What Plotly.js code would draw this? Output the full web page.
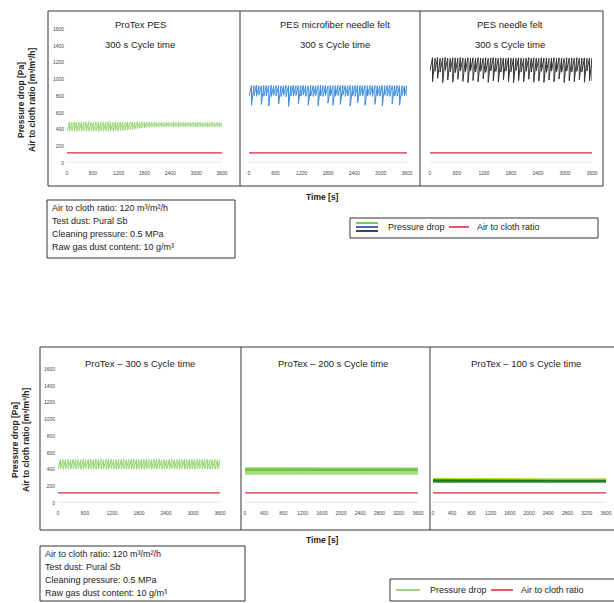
<!DOCTYPE html>
<html>
<head>
<meta charset="utf-8">
<script src="https://cdn.plot.ly/plotly-3.0.1.min.js"></script>
<style>html,body{margin:0;padding:0;background:#fff;}#chart{width:614px;height:603px;}</style>
</head>
<body>
<div id="chart"></div>
<script>
// ---------- DATA ----------
const timeRange = [0, 3600];
const ratioValue = 120;           // air to cloth ratio [m3/m2/h]
const baseValue = 10;             // faint base line

const yTicks = [0,200,400,600,800,1000,1200,1400,1600];
const xTicks600 = [0,600,1200,1800,2400,3000,3600];
const xTicks400 = [0,400,800,1200,1600,2000,2400,2800,3200,3600];

const topTitles = ["ProTex PES", "PES microfiber needle felt", "PES needle felt"];
const topSubtitle = "300 s Cycle time";
const bottomTitles = ["ProTex \u2013 300 s Cycle time", "ProTex \u2013 200 s Cycle time", "ProTex \u2013 100 s Cycle time"];

// Top left: ProTex PES (peak / trough per cleaning cycle, Pa)
const t1Peaks = [492,488,494,490,487,493,489,491,495,488,490,492,487,491,493,489,490,494,488,491,489,492,490,487,493,491,488,490,494,489,491,487,488,486,489,487,485,488,486,487,485,488,486,484,487,485,488,486,484,487,485,486,484,487,485,483,486,484,487,485,483,486,484,485];
const t1Troughs = [382,378,385,380,376,384,379,383,377,381,386,379,382,375,384,380,383,378,385,381,388,384,390,386,392,395,398,402,405,410,412,418,422,425,428,430,427,432,429,433,430,431,434,432,430,433,431,435,432,430,434,431,433,430,432,435,431,433,430,432,434,431,433,432];
// Top middle: PES microfiber needle felt
const t2Peaks = [926,922,928,924,921,927,923,925,929,922,924,926,921,925,927,923,924,928,922,925,923,926,924,921,927,925,922,924,928,923,925,921,926,924,922,927,923,925,924,922,926,923,925,927,922,924,926,923,925,921,927,924,922,926,923,925,928,922,924,926,923,925,921,924];
const t2Troughs = [800,690,805,795,810,700,798,802,680,795,808,800,705,795,810,790,675,800,798,805,710,800,812,795,690,800,796,805,685,800,795,808,715,802,690,798,805,700,810,795,800,680,802,795,720,805,798,690,800,808,795,700,803,797,685,810,800,795,705,802,798,690,805,800];
// Top right: PES needle felt
const t3Peaks = [1258,1252,1260,1250,1255,1262,1253,1248,1257,1255,1251,1261,1254,1249,1258,1253,1256,1250,1259,1254,1252,1257,1248,1255,1260,1253,1251,1256,1254,1249,1258,1252,1255,1250,1257,1254,1248,1253,1259,1251,1256,1254,1250,1257,1252,1255,1249,1254,1258,1251,1256,1253,1249,1257,1252,1255,1250,1258,1253,1251,1256,1249,1254,1252];
const t3Troughs = [1100,970,1095,1010,1085,960,1105,990,1090,965,1080,1000,1098,975,1092,960,1102,985,1088,970,1095,1005,1082,962,1100,980,1093,968,1086,995,1098,972,1090,960,1104,985,1085,970,1096,1000,1089,965,1101,978,1094,962,1083,990,1097,968,1091,1002,1085,963,1099,982,1088,970,1094,995,1087,964,1100,980];
// Bottom left: ProTex 300 s
const b1Peaks = [522,518,524,520,517,523,519,521,516,522,518,520,523,517,521,519,522,516,520,518,523,519,517,521,520,522,516,519,521,518,523,517,520,519,522,518,516,521,519,523,517,520,518,522,519,516,521,520,518,522,519,517,521,520,523,518,516,520,522,519,517,521,518,520];
const b1Troughs = [405,410,402,408,412,404,409,406,411,403,408,413,405,407,410,402,409,406,412,404,408,411,403,407,410,405,409,402,411,406,408,404,410,407,403,409,412,405,408,406,411,403,409,407,404,410,406,408,405,411,403,409,406,410,404,408,412,405,409,403,407,410,405,408];
// Bottom middle / right: very dense cycles, envelope sampled every 360 s
const bandTimes = [0,360,720,1080,1440,1800,2160,2520,2880,3240,3600];
const b2Upper = [424,423,425,422,424,423,421,423,422,424,421];
const b2Lower = [340,342,339,341,338,340,342,339,341,338,340];
const b2Mid   = [398,399,397,398,397,398,396,397,398,397,396];
const b3Upper = [292,290,291,289,290,288,289,287,288,287,286];
const b3Lower = [246,247,245,246,244,245,246,244,245,243,244];
const b3Mid   = [268,267,268,266,267,266,267,265,266,265,265];

// ---------- HELPERS ----------
const W = 614, H = 603;
const px = x => x / W;
const py = y => 1 - y / H;
const FONT = "Liberation Sans, Arial, sans-serif";

function sawtooth(peaks, troughs) {
  const n = peaks.length, step = (timeRange[1]-timeRange[0]) / n;
  const xs = [], ys = [];
  for (let i = 0; i < n; i++) {
    xs.push(timeRange[0] + i*step); ys.push(troughs[i]);
    xs.push(timeRange[0] + (i+1)*step - 0.001); ys.push(peaks[i]);
  }
  xs.push(timeRange[1]); ys.push(troughs[n-1]);
  return {x: xs, y: ys};
}

const traces = [];
function addPanel(k, pd, color, width) {
  const xa = 'x' + (k===1?'':k), ya = 'y' + (k===1?'':k);
  traces.push({x:timeRange, y:[baseValue,baseValue], xaxis:xa, yaxis:ya, mode:'lines', line:{color:'#e4e4e4', width:1}, showlegend:false, hoverinfo:'skip'});
  if (pd) traces.push({x:pd.x, y:pd.y, xaxis:xa, yaxis:ya, mode:'lines', line:{color:color, width:width}, showlegend:false});
  traces.push({x:timeRange, y:[ratioValue,ratioValue], xaxis:xa, yaxis:ya, mode:'lines', line:{color:'#d8283a', width:1.3}, showlegend:false});
}
addPanel(1, sawtooth(t1Peaks, t1Troughs), '#98d675', 1);
addPanel(2, sawtooth(t2Peaks, t2Troughs), '#3a8ee0', 1);
addPanel(3, sawtooth(t3Peaks, t3Troughs), '#333333', 1);
addPanel(4, sawtooth(b1Peaks, b1Troughs), '#92d36c', 1);
addPanel(5, null);
addPanel(6, null);
// bands
traces.push({x:bandTimes, y:b2Lower, xaxis:'x5', yaxis:'y5', mode:'lines', line:{color:'#a6db80', width:0.5}, showlegend:false});
traces.push({x:bandTimes, y:b2Upper, xaxis:'x5', yaxis:'y5', mode:'lines', fill:'tonexty', fillcolor:'#a6db80', line:{color:'#96d26e', width:0.5}, showlegend:false});
traces.push({x:bandTimes, y:b2Mid, xaxis:'x5', yaxis:'y5', mode:'lines', line:{color:'#72be48', width:2.5}, showlegend:false});
traces.push({x:bandTimes, y:b3Lower, xaxis:'x6', yaxis:'y6', mode:'lines', line:{color:'#2f8a2c', width:0.5}, showlegend:false});
traces.push({x:bandTimes, y:b3Upper, xaxis:'x6', yaxis:'y6', mode:'lines', fill:'tonexty', fillcolor:'#2f8a2c', line:{color:'#bedc32', width:1.5}, showlegend:false});
traces.push({x:bandTimes, y:b3Mid, xaxis:'x6', yaxis:'y6', mode:'lines', line:{color:'#1f7a22', width:1.5}, showlegend:false});

// ---------- AXES ----------
function xAxis(d0, d1, ticks, anchor) {
  return {domain:[px(d0), px(d1)], range:[0,3600], anchor:anchor, showgrid:false, zeroline:false, showline:false,
    ticks:'', tickvals:ticks, ticktext:ticks.map(String), tickfont:{size:5, color:'#444', family:FONT},
    ticklabelstandoff:6, fixedrange:true};
}
function yAxis(d0, d1, show, anchor) {
  return {domain:[py(d0), py(d1)], range:[0,1600], anchor:anchor, showgrid:false, zeroline:false, showline:false,
    ticks:'', tickvals:yTicks, ticktext:yTicks.map(String), showticklabels:show,
    tickfont:{size:5, color:'#444', family:FONT}, ticklabelstandoff:2, fixedrange:true};
}

const layout = {
  width:W, height:H, margin:{l:0,r:0,t:0,b:0}, paper_bgcolor:'#fff', plot_bgcolor:'rgba(0,0,0,0)',
  showlegend:false, font:{family:FONT, color:'#222'},
  xaxis: xAxis(67,222,xTicks600,'y'),   yaxis: yAxis(163,29,true,'x'),
  xaxis2:xAxis(249,407,xTicks600,'y2'), yaxis2:yAxis(163,29,false,'x2'),
  xaxis3:xAxis(430,592,xTicks600,'y3'), yaxis3:yAxis(163,29,false,'x3'),
  xaxis4:xAxis(58,220,xTicks600,'y4'),  yaxis4:yAxis(503,369,true,'x4'),
  xaxis5:xAxis(245,418,xTicks400,'y5'), yaxis5:yAxis(503,369,false,'x5'),
  xaxis6:xAxis(433,606,xTicks400,'y6'), yaxis6:yAxis(503,369,false,'x6'),
  shapes:[], annotations:[]
};

function rect(x0,y0,x1,y1,w){ layout.shapes.push({type:'rect', xref:'paper', yref:'paper', x0:px(x0), x1:px(x1), y0:py(y1), y1:py(y0), line:{color:'#333', width:w||1}}); }
function vline(x,y0,y1){ layout.shapes.push({type:'line', xref:'paper', yref:'paper', x0:px(x), x1:px(x), y0:py(y0), y1:py(y1), line:{color:'#333', width:1}}); }
function hseg(x0,x1,y,color,w){ layout.shapes.push({type:'line', xref:'paper', yref:'paper', x0:px(x0), x1:px(x1), y0:py(y), y1:py(y), line:{color:color, width:w}}); }
function text(t,x,y,opts){ layout.annotations.push(Object.assign({text:t, xref:'paper', yref:'paper', x:px(x), y:py(y), showarrow:false, xanchor:'center', yanchor:'middle', font:{size:9.5, color:'#222', family:FONT}}, opts||{})); }

// frames
rect(48,11,603,186); vline(240,11,186); vline(420,11,186);
rect(40,347,616,530); vline(241,347,530); vline(430,347,530);

// panel titles
const topCenters = [140,335,510];
topTitles.forEach((t,i)=>{ text(t, topCenters[i], 24); text(topSubtitle, topCenters[i], 44); });
const botCenters = [140,333,526];
bottomTitles.forEach((t,i)=> text(t, botCenters[i], 363));

// y titles
const yT1 = "<b>Pressure drop [Pa]</b>", yT2 = "<b>Air to cloth ratio [m\u00b3/m\u00b2/h]</b>";
const tf = {size:8.5, color:'#222', family:FONT};
text(yT1, 21, 100, {textangle:-90, font:tf});
text(yT2, 32, 100, {textangle:-90, font:tf});
text(yT1, 15, 440, {textangle:-90, font:tf});
text(yT2, 26, 440, {textangle:-90, font:tf});

// x titles
text("<b>Time [s]</b>", 322, 197, {font:tf});
text("<b>Time [s]</b>", 322, 540, {font:tf});

// info boxes
const infoLines = ["Air to cloth ratio: 120 m\u00b3/m\u00b2/h", "Test dust: Pural Sb", "Cleaning pressure: 0.5 MPa", "Raw gas dust content: 10 g/m\u00b3"];
const lf = {size:9, color:'#222', family:FONT};
rect(47,200,235,258);
infoLines.forEach((t,i)=> text(t, 50, 208+i*13, {xanchor:'left', font:lf}));
rect(40,546,245,601);
infoLines.forEach((t,i)=> text(t, 43, 554+i*13, {xanchor:'left', font:lf}));

// legends
rect(350,218,598,238);
hseg(356,378,223,'#7cc855',2); hseg(356,378,227,'#3a6fd0',2); hseg(356,378,231,'#444',2);
text("Pressure drop", 386, 227, {xanchor:'left', font:lf});
hseg(449,469,227,'#e02030',1.5);
text("Air to cloth ratio", 475, 227, {xanchor:'left', font:lf});

rect(390,579,616,601);
hseg(396,420,590,'#7cc855',1.5);
text("Pressure drop", 428, 590, {xanchor:'left', font:lf});
hseg(491,513,590,'#e02030',1.5);
text("Air to cloth ratio", 519, 590, {xanchor:'left', font:lf});

Plotly.newPlot('chart', traces, layout, {staticPlot:true, displayModeBar:false});
</script>
</body>
</html>
